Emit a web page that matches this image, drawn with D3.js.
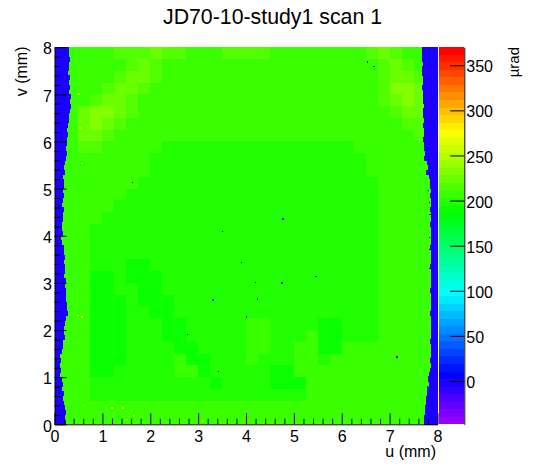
<!DOCTYPE html>
<html><head><meta charset="utf-8">
<script src="https://cdn.jsdelivr.net/npm/d3@7"></script>
<style>
html,body{margin:0;padding:0;background:#fff;}
svg{display:block;font-family:"Liberation Sans",Arial,Helvetica,sans-serif;}
</style>
</head><body>
<svg id="chart" width="546" height="472"></svg>
<script>
// ---------------- data ----------------
const chartTitle = "JD70-10-study1 scan 1";
const xTitle = "u (mm)";
const yTitle = "v (mm)";
const zTitle = "µrad";
const uDomain = [0, 8];
const vDomain = [0, 8];
const zDomain = [-48, 370];
const xTickValues = [0, 1, 2, 3, 4, 5, 6, 7, 8];
const yTickValues = [0, 1, 2, 3, 4, 5, 6, 7, 8];
const zTickValues = [0, 50, 100, 150, 200, 250, 300, 350];
const nColors = 50;

// body map (µrad), rows from v = 8 (top) to v = 0, columns u = 0 -> 8
const bodyValues = [
[207,207,207,207,207,215,215,215,224,215,215,207,207,207,215,215,215,215,207,207,207,207,207,207,207,207,215,224,215,207,207,207],
[207,207,207,207,207,207,215,224,215,207,207,207,207,207,207,207,207,207,207,207,207,207,207,207,207,207,207,215,224,215,207,207],
[207,207,207,207,207,215,224,224,215,207,207,207,207,207,207,207,207,207,207,207,207,207,207,207,207,207,207,215,224,224,215,207],
[207,207,207,207,215,224,224,215,207,207,207,207,207,207,207,207,207,207,207,207,207,207,207,207,207,207,207,215,232,232,224,215],
[207,207,207,215,224,224,215,207,207,207,207,207,207,207,207,207,207,207,207,207,207,207,207,207,207,207,207,215,224,232,224,215],
[207,207,224,232,232,224,215,207,207,207,207,207,207,207,207,207,207,207,207,207,207,207,207,207,207,207,207,207,215,224,224,215],
[207,207,224,232,224,215,207,207,207,207,207,207,207,207,207,207,207,207,207,207,207,207,207,207,207,207,207,207,207,215,215,207],
[207,207,224,224,215,207,207,207,207,207,207,207,207,207,207,207,207,207,207,207,207,207,207,207,207,207,207,207,207,207,215,207],
[207,207,215,215,207,207,207,207,207,199,199,199,199,199,199,199,199,199,199,199,199,199,199,199,199,207,207,207,207,207,207,207],
[207,207,207,207,207,207,207,207,199,199,199,199,199,199,199,199,199,199,199,199,199,199,199,199,199,199,207,207,207,207,207,207],
[207,207,207,207,207,207,207,207,199,199,199,199,199,199,199,199,199,199,199,199,199,199,199,199,199,199,207,207,207,207,207,207],
[207,207,207,207,207,207,207,199,199,199,199,199,199,199,199,199,199,199,199,199,199,199,199,199,199,199,199,207,207,207,207,207],
[207,207,207,207,207,207,199,199,199,199,199,199,199,199,199,199,199,199,199,199,199,199,199,199,199,199,199,207,207,207,207,207],
[207,207,207,207,207,199,199,199,199,199,199,199,199,199,199,199,199,199,199,199,199,199,199,199,199,199,199,207,207,207,207,207],
[207,207,207,207,199,199,199,199,199,199,199,199,199,199,199,199,199,199,199,199,199,199,199,199,199,199,199,207,207,207,207,207],
[207,207,207,199,199,199,199,199,199,199,199,199,199,199,199,199,199,199,199,199,199,199,199,199,199,199,199,207,207,207,207,207],
[207,207,207,199,199,199,199,199,199,199,199,199,199,199,199,199,199,199,199,199,199,199,199,199,199,199,199,207,207,207,207,207],
[207,207,207,199,199,199,199,199,199,199,199,199,199,199,199,199,199,199,199,199,199,199,199,199,199,199,199,207,207,207,207,207],
[207,207,207,199,199,199,190,190,199,199,199,199,199,199,199,199,199,199,199,199,199,199,199,199,199,199,199,207,207,207,207,207],
[207,207,207,190,190,199,190,190,190,199,199,199,199,199,199,199,199,199,199,199,199,199,199,199,199,199,199,207,207,207,207,207],
[207,207,207,190,190,199,199,190,190,199,199,199,199,199,199,199,199,199,199,199,199,199,199,199,199,199,199,207,207,207,207,207],
[207,207,207,190,190,190,199,190,190,190,199,199,199,199,199,199,199,199,199,199,199,199,199,199,199,199,199,207,207,207,207,207],
[207,207,207,190,190,190,199,199,190,190,199,199,199,199,199,199,199,199,199,199,199,199,199,199,199,199,199,207,207,207,207,207],
[207,207,207,190,190,190,199,199,199,190,190,199,199,199,199,199,207,207,199,199,199,199,190,190,199,199,199,207,207,207,207,207],
[207,207,207,190,190,190,199,199,199,190,190,199,199,199,199,199,207,207,199,199,199,207,190,190,199,199,199,207,207,207,207,207],
[207,207,207,190,190,190,199,199,199,199,190,190,199,199,199,199,207,207,199,199,207,207,190,190,207,207,207,207,207,207,207,207],
[207,207,207,190,190,190,199,199,199,199,207,190,190,199,199,199,207,199,199,199,207,207,199,207,207,207,207,207,207,207,207,207],
[207,207,207,190,190,199,199,199,199,199,207,207,190,199,199,199,199,199,190,190,207,207,207,207,207,207,207,207,207,207,207,207],
[207,207,207,199,199,199,199,199,199,199,199,199,199,190,199,199,199,199,190,190,190,207,207,207,207,207,207,207,207,207,207,207],
[207,207,207,199,199,199,199,199,199,199,199,199,199,199,199,199,199,199,199,199,199,207,207,207,207,207,207,207,207,207,207,207],
[207,207,207,207,207,207,207,207,207,207,207,207,207,207,207,207,207,207,207,207,207,207,207,207,207,207,207,207,207,207,207,207],
[207,207,207,207,207,207,207,207,207,207,207,207,207,207,207,207,207,207,207,207,207,207,207,207,207,207,207,207,207,207,207,207]
];

// empty (no-signal) region, value and edge profile every 0.1 mm in v, from v = 8 down to v = 0
const outsideValue = 0;
const edgeStep = 0.1;
const leftEdge = [
0.31,0.30,0.33,0.30,0.31, 0.29,0.32,0.30,0.33,0.31, 0.34,0.32,0.35,0.33,0.30, 0.31,0.29,0.27,0.28,0.26,
0.26,0.25,0.27,0.24,0.22, 0.20,0.22,0.18,0.20,0.19, 0.17,0.20,0.18,0.16,0.19, 0.17,0.18,0.16,0.15,0.17,
0.14,0.16,0.20,0.19,0.21, 0.20,0.21,0.22,0.20,0.23, 0.22,0.24,0.23,0.25,0.26, 0.27,0.28,0.25,0.22,0.20,
0.19,0.21,0.18,0.17,0.15, 0.12,0.14,0.11,0.13,0.12, 0.15,0.17,0.16,0.19,0.18, 0.20,0.22,0.24,0.22,0.23
];
const rightEdge = [
7.67,7.68,7.67,7.69,7.68,7.67,7.69,7.70,7.68,7.69,7.70,7.69,7.71,7.70,7.69,7.71,7.70,7.72,7.71,7.70,
7.72,7.71,7.73,7.72,7.78,7.80,7.76,7.82,7.84,7.85,7.86,7.85,7.86,7.86,7.85,7.86,7.86,7.85,7.86,7.86,
7.86,7.86,7.85,7.86,7.86,7.86,7.85,7.86,7.86,7.86,7.86,7.85,7.86,7.86,7.86,7.86,7.85,7.86,7.86,7.86,
7.86,7.86,7.85,7.86,7.86,7.86,7.85,7.86,7.85,7.83,7.80,7.82,7.79,7.78,7.76,7.77,7.74,7.73,7.72,7.72
];

// isolated single bins [u, v, value]
const pixelBin = 0.02;
const singleBins = [
[1.61,5.13,0],[3.49,4.09,0],[6.53,7.68,0],[6.66,7.58,0],[4.76,4.35,0],[3.90,3.43,0],
[3.30,2.63,0],[2.76,1.90,0],[3.42,1.12,0],[4.18,3.00,0],[4.74,2.99,0],[5.45,3.12,0],
[4.22,2.65,0],[4.00,2.27,0],[7.14,1.42,0],[7.80,4.95,0],[7.82,4.70,0],[7.83,4.45,0],
[7.82,3.95,0],[7.82,3.70,0],[7.83,3.30,0],[7.80,1.00,0],[7.78,0.80,0],
[1.19,0.34,265],[1.42,0.34,265],[1.50,0.09,270],[1.65,0.17,265],[1.59,0.28,262],
[0.59,0.40,262],[3.09,0.06,265],[3.49,0.26,262],[0.48,2.30,262],[0.56,2.27,262],
[0.50,7.00,262],[0.52,6.28,262],[0.56,5.52,262],[0.62,7.68,130]
];

// ---------------- drawing ----------------
const svg = d3.select("#chart");
const x = d3.scaleLinear().domain(uDomain).range([54.5, 437.5]);
const y = d3.scaleLinear().domain(vDomain).range([424.3, 47.2]);
const zScale = d3.scaleLinear().domain(zDomain).range([424.3, 47.2]);
const palette = d3.range(nColors).map(i => d3.hsl(280 - (i + 1) * 280 / nColors, 1, 0.5).formatHex());
const colorOf = v => {
  let i = Math.floor((v - zDomain[0]) / (zDomain[1] - zDomain[0]) * nColors + 1e-9);
  i = Math.max(0, Math.min(nColors - 1, i));
  return palette[i];
};

const plot = svg.append("g").attr("shape-rendering", "crispEdges");
const nRows = bodyValues.length, nCols = bodyValues[0].length;
const du = (uDomain[1] - uDomain[0]) / nCols, dv = (vDomain[1] - vDomain[0]) / nRows;
const cells = [];
bodyValues.forEach((row, r) => row.forEach((val, c) => cells.push({
  u0: uDomain[0] + c * du, u1: uDomain[0] + (c + 1) * du,
  v1: vDomain[1] - r * dv, v0: vDomain[1] - (r + 1) * dv, val
})));
plot.selectAll("rect.cell").data(cells).join("rect").attr("class", "cell")
  .attr("x", d => x(d.u0)).attr("width", d => x(d.u1) - x(d.u0))
  .attr("y", d => y(d.v1)).attr("height", d => y(d.v0) - y(d.v1))
  .attr("fill", d => colorOf(d.val));

const strips = [];
leftEdge.forEach((e, k) => strips.push({u0: uDomain[0], u1: e, v1: vDomain[1] - k * edgeStep, v0: vDomain[1] - (k + 1) * edgeStep}));
rightEdge.forEach((e, k) => strips.push({u0: e, u1: uDomain[1], v1: vDomain[1] - k * edgeStep, v0: vDomain[1] - (k + 1) * edgeStep}));
plot.selectAll("rect.strip").data(strips).join("rect").attr("class", "strip")
  .attr("x", d => x(d.u0)).attr("width", d => x(d.u1) - x(d.u0))
  .attr("y", d => y(d.v1)).attr("height", d => y(d.v0) - y(d.v1) + 0.3)
  .attr("fill", colorOf(outsideValue));

plot.selectAll("rect.bin").data(singleBins).join("rect").attr("class", "bin")
  .attr("x", d => x(d[0])).attr("y", d => y(d[1] + pixelBin))
  .attr("width", d => Math.max(1.2, x(d[0] + pixelBin) - x(d[0])))
  .attr("height", d => Math.max(1.2, y(d[1]) - y(d[1] + pixelBin)))
  .attr("fill", d => colorOf(d[2]));

// colour bar
const barX0 = 439, barX1 = 464.3;
const step = (zDomain[1] - zDomain[0]) / nColors;
svg.append("g").attr("shape-rendering", "crispEdges").selectAll("rect").data(palette).join("rect")
  .attr("x", barX0).attr("width", barX1 - barX0)
  .attr("y", (c, i) => zScale(zDomain[0] + (i + 1) * step))
  .attr("height", (c, i) => zScale(zDomain[0] + i * step) - zScale(zDomain[0] + (i + 1) * step))
  .attr("fill", c => c);

function styleAxis(g) {
  g.attr("font-family", null).attr("font-size", null);
  g.selectAll("text").attr("font-family", '"Liberation Sans",Arial,sans-serif').attr("font-size", 16).attr("fill", "#000");
  g.selectAll("line,path").attr("stroke", "#000");
}

// minor ticks
const minorX = d3.range(0, 41).map(i => i * 0.2).filter(v => Math.abs(v - Math.round(v)) > 1e-6);
svg.append("g").attr("transform", "translate(0,424.3)")
  .call(d3.axisBottom(x).tickValues(minorX).tickSize(-5.5).tickFormat(""))
  .call(g => { g.select(".domain").remove(); styleAxis(g); });
svg.append("g").attr("transform", "translate(54.5,0)")
  .call(d3.axisLeft(y).tickValues(minorX).tickSize(-6).tickFormat(""))
  .call(g => { g.select(".domain").remove(); styleAxis(g); });

// major axes
svg.append("g").attr("transform", "translate(0,424.3)")
  .call(d3.axisBottom(x).tickValues(xTickValues).tickSize(-11).tickSizeOuter(0).tickPadding(6).tickFormat(d3.format("d")))
  .call(styleAxis);
svg.append("g").attr("transform", "translate(54.5,0)")
  .call(d3.axisLeft(y).tickValues(yTickValues).tickSize(-12).tickSizeOuter(0).tickPadding(2.5).tickFormat(d3.format("d")))
  .call(styleAxis)
  .call(g => g.selectAll("text").attr("dy", "0.42em"));
svg.append("g").attr("transform", `translate(${barX1},0)`)
  .call(d3.axisRight(zScale).tickValues(zTickValues).tickSize(-14).tickSizeOuter(0).tickPadding(2).tickFormat(d3.format("d")))
  .call(styleAxis)
  .call(g => g.selectAll("text").attr("dy", "0.41em"));

// titles
svg.append("text").attr("x", 272.5).attr("y", 24).attr("text-anchor", "middle")
  .attr("font-size", 21.3).text(chartTitle);
svg.append("text").attr("x", 436).attr("y", 457).attr("text-anchor", "end")
  .attr("font-size", 16).text(xTitle);
svg.append("text").attr("transform", "translate(26.6,46.5) rotate(-90)").attr("text-anchor", "end")
  .attr("font-size", 16).text(yTitle);
svg.append("text").attr("transform", "translate(519,47) rotate(-90)").attr("text-anchor", "end")
  .attr("font-size", 15).text(zTitle);
</script>
</body></html>
